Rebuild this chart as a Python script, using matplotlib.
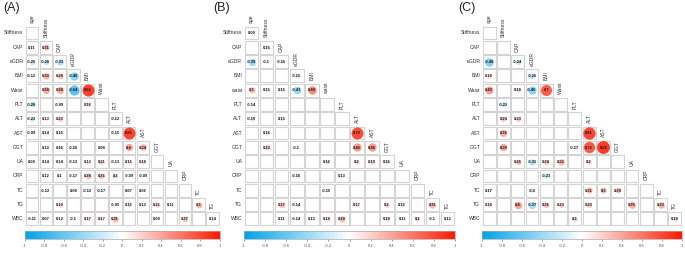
import numpy as np
import matplotlib
matplotlib.use("Agg")
import matplotlib.pyplot as plt
from matplotlib.colors import LinearSegmentedColormap
from matplotlib.patches import Rectangle

plt.rcParams['font.family'] = ['Liberation Sans', 'DejaVu Sans']

labels = ["age", "Stiffness", "CAP", "eGDR", "BMI", "Waist", "PLT", "ALT",
          "AST", "GGT", "UA", "CRP", "TC", "TG", "WBC"]
labels_b = ["age", "Stiffness", "CAP", "eGDR", "BMI", "waist", "PLT", "ALT",
            "AST", "GGT", "UA", "CRP", "TC", "TG", "WBC"]

N = None
# lower triangle, row i = labels[i+1], columns age .. labels[i]
panel_a = [
    [N],
    [0.11, 0.31],
    [-0.25, -0.26, -0.33],
    [-0.12, 0.33, 0.28, -0.48],
    [N, 0.38, 0.38, -0.64, 0.82],
    [-0.28, N, -0.09, N, 0.16, N],
    [-0.22, 0.13, 0.23, N, N, N, -0.12],
    [-0.09, 0.14, 0.15, N, N, N, -0.15, 0.81],
    [N, 0.13, 0.16, -0.16, N, 0.08, N, 0.4, 0.34],
    [0.09, 0.14, 0.14, -0.13, 0.13, 0.21, -0.13, 0.15, 0.18, N],
    [N, 0.12, 0.1, -0.17, 0.28, 0.26, 0.2, -0.09, -0.09, N, N],
    [N, -0.12, N, 0.08, -0.12, -0.17, N, 0.07, 0.06, N, N, N],
    [N, N, 0.19, N, N, N, -0.05, 0.15, 0.13, 0.21, 0.11, N, 0.3],
    [-0.11, 0.07, 0.12, -0.1, 0.17, 0.17, 0.31, N, N, 0.09, N, 0.27, N, 0.14],
]

panel_b = [
    [0.09],
    [N, 0.15],
    [-0.39, -0.1, -0.16],
    [N, N, N, -0.15],
    [0.3, 0.15, 0.15, -0.41, 0.48],
    [-0.14, N, N, N, N, N],
    [-0.19, N, 0.15, N, N, N, N],
    [N, 0.16, N, N, N, N, N, 0.78],
    [N, 0.23, N, -0.1, N, N, N, 0.46, 0.46],
    [N, N, N, N, N, 0.16, N, 0.2, 0.19, 0.16],
    [N, N, N, -0.16, N, N, 0.13, N, N, N, N],
    [N, N, N, N, N, -0.15, N, N, N, N, N, N],
    [N, N, 0.27, -0.14, N, N, N, 0.17, N, 0.2, 0.15, N, 0.31],
    [N, N, 0.11, -0.14, 0.13, 0.18, 0.29, N, N, 0.18, 0.11, 0.2, -0.1, 0.12],
]

panel_c = [
    [N],
    [N, N],
    [-0.48, N, -0.24],
    [0.18, N, N, -0.26],
    [0.43, N, 0.18, -0.46, 0.7],
    [N, -0.22, N, N, N, N],
    [N, 0.24, 0.23, N, N, N, N],
    [N, 0.36, N, N, N, N, N, 0.81],
    [N, 0.39, N, N, N, N, -0.17, 0.72, 0.86],
    [N, N, 0.26, -0.31, 0.24, 0.32, N, 0.2, N, N],
    [N, N, N, N, -0.23, N, N, N, N, N, N],
    [0.17, N, N, -0.2, N, N, N, 0.31, 0.3, 0.28, N, N],
    [0.18, N, 0.4, -0.37, 0.26, 0.23, N, 0.23, N, N, 0.35, N, 0.33],
    [N, N, N, N, N, N, 0.2, N, N, N, N, N, N, 0.18],
]

cb_ticks = [-1, -0.8, -0.6, -0.4, -0.2, 0, 0.2, 0.4, 0.6, 0.8, 1]

W, H = 685, 254
cmap = LinearSegmentedColormap.from_list("bwr2", ["#00A3EA", "#FFFFFF", "#FF1A00"])

fig = plt.figure(figsize=(W / 100, H / 100), dpi=100)


def px_axes(x0, x1, y0, y1):
    return fig.add_axes([x0 / W, 1 - y1 / H, (x1 - x0) / W, (y1 - y0) / H])


def draw_panel(data, names, x0, x1, tag):
    top, bot = 11.5, 226
    ax = px_axes(x0, x1, top, bot)
    ax.set_xlim(0, 14)
    ax.set_ylim(15, 0)
    ax.axis("off")
    cw = (x1 - x0) / 14
    ch = (bot - top) / 15
    cell = min(cw, ch)
    g = 0.05
    for i, row in enumerate(data):
        r = i + 1
        ax.text(-0.12, r + 0.5, names[r], ha="right", va="center",
                fontsize=3.6, color="#333333")
        for c, v in enumerate(row):
            ax.add_patch(Rectangle((c + g, r + g), 1 - 2 * g, 1 - 2 * g,
                                   facecolor="white", edgecolor="#d4d4d4",
                                   lw=0.8, zorder=1))
            if v is None:
                continue
            d = cell * abs(v) ** 0.7 * 0.72
            ax.scatter(c + 0.5, r + 0.5, s=d ** 2, color=cmap((v + 1) / 2),
                       lw=0, zorder=2)
            ax.text(c + 0.5, r + 0.52, f"{v:g}", ha="center", va="center",
                    fontsize=2.9, color="#1a1a1a", fontweight="bold", zorder=3)
    for j in range(14):
        ax.text(j + 0.5, j + 0.8, names[j], rotation=90, ha="center",
                va="bottom", fontsize=3.6, color="#333333")

    cax = px_axes(x0, x1, 231, 239)
    cax.imshow(np.linspace(-1, 1, 256)[None, :], aspect="auto", cmap=cmap,
               extent=[-1, 1, 0, 1])
    cax.set_yticks([])
    cax.set_xticks(cb_ticks)
    cax.set_xticklabels([f"{t:g}" for t in cb_ticks])
    cax.tick_params(axis="x", labelsize=3, colors="#555555", length=1.5,
                    width=0.4, pad=2)
    for s in cax.spines.values():
        s.set_color("#aaaaaa")
        s.set_linewidth(0.5)

    fig.text(tag[1] / W, 1 - 8 / H, tag[0], fontsize=9, ha="left",
             va="center", color="#222222")


draw_panel(panel_a, labels, 25, 219.5, ("(A)", 3))
draw_panel(panel_b, labels_b, 244, 455, ("(B)", 213))
draw_panel(panel_c, labels, 482, 682, ("(C)", 458))

fig.savefig("out.png", dpi=100)
